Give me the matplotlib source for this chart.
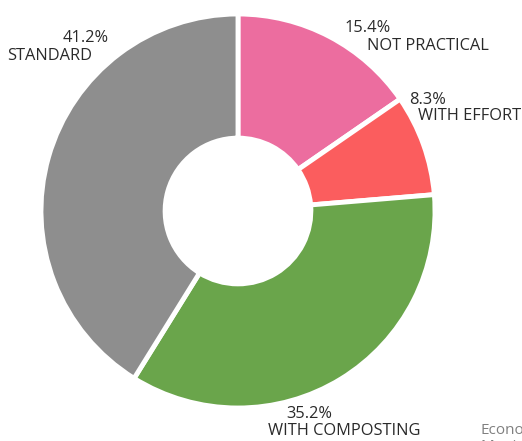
import matplotlib
matplotlib.use("Agg")
import matplotlib.pyplot as plt

categories = ["NOT PRACTICAL", "WITH EFFORT", "WITH COMPOSTING", "STANDARD"]
values = [15.4, 8.3, 35.2, 41.2]
pct_labels = ["15.4%", "8.3%", "35.2%", "41.2%"]
colors = ["#ec6d9f", "#fb5d5e", "#6aa54b", "#8e8e8e"]

plt.rcParams['font.family'] = ['Open Sans', 'DejaVu Sans']

W, H = 522, 441
fig = plt.figure(figsize=(W / 100, H / 100), dpi=100)
ax = fig.add_axes([0, 0, 1, 1])

def Y(y):
    return H - y

cx, cy, R = 238, 211, 197
ax.pie(values, colors=colors, startangle=90, counterclock=False,
       center=(cx, Y(cy)), radius=R, explode=[0, 0, 0, 0.012],
       wedgeprops=dict(width=R * 0.63, edgecolor='white', linewidth=3.5))
ax.set_xlim(0, W)
ax.set_ylim(0, H)
ax.set_aspect('equal')
ax.axis('off')

txt = dict(color="#2a2a2a", fontsize=11.8, va='center', ha='left')
label_pos = {
    "NOT PRACTICAL": ((344, 28), (367, 46)),
    "WITH EFFORT": ((409, 100), (418, 116)),
    "WITH COMPOSTING": ((286, 414), (268, 431)),
    "STANDARD": ((63, 38), (7, 56)),
}
for cat, pct in zip(categories, pct_labels):
    (px, py), (lx, ly) = label_pos[cat]
    ax.text(px, Y(py), pct, **txt)
    ax.text(lx, Y(ly), cat, **txt)

ax.text(480, Y(430), "Economic", color="#808080", fontsize=11, va='center', ha='left')
ax.text(480, Y(447), "Municipal", color="#808080", fontsize=11, va='center', ha='left')

fig.savefig("out.png", dpi=100, facecolor='white')
